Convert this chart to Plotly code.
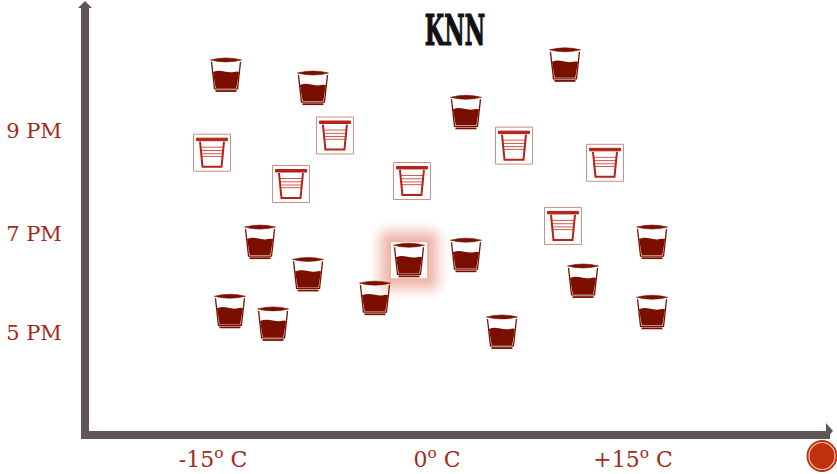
import plotly.graph_objects as go

# Temperature (deg C) and time of day (24h clock)
filled_temp = [-15.07, -8.86, 9.14, 2.07, -12.64, -9.21, -14.79, -11.71, -4.43, -2.0, 2.07, 10.43, 15.36, 15.36, 4.64]
filled_hour = [22.15, 21.89, 22.35, 21.41, 18.84, 18.2, 17.47, 17.22, 17.73, 18.48, 18.58, 18.07, 18.84, 17.45, 17.06]
empty_temp = [-16.07, -7.29, -10.43, -1.79, 5.5, 12.0, 9.0]
empty_hour = [20.61, 20.95, 19.99, 20.05, 20.75, 20.41, 19.16]
target_temp = [-2.0]
target_hour = [18.48]

x_tick_vals = [-16, 0, 14]
x_tick_text = ["-15<sup>o</sup> C", "0<sup>o</sup> C", "+15<sup>o</sup> C"]
y_tick_vals = [21.04, 19.0, 17.04]
y_tick_text = ["9 PM", "7 PM", "5 PM"]

# light flecks in the worn axis bars
fleck_x = [-24.5, -23.8, -23.1, -21.6, -20.4, -19.7, -17.9, -16.5, -15.8, -12.3, -10.6, -8.2, -6.9, -3.4, -1.2,
           1.7, 3.9, 6.2, 8.8, 11.3, 13.9, 16.4, 18.7, 21.1, 23.6, 25.2, 26.3]
fleck_y = [23.1, 22.4, 21.7, 20.9, 20.2, 19.6, 18.5, 17.9, 17.1, 16.4, 15.9, 15.5, 15.3]

DARK = "#7a0f00"
RED = "#b3231a"
LABEL = "#a32a1c"
AXIS = "#5f5658"
BOX = "#cb8f86"
PXX, PXY = 14.0, 50.5

fig = go.Figure()


def path(pts, close=True):
    # points are (right, down) pixel offsets from the anchor
    s = "M" + " L".join(f"{x},{-y}" for x, y in pts)
    return s + (" Z" if close else "")


def anchored(x, y, d, **kw):
    return dict(type="path", xref="x", yref="y", xsizemode="pixel", ysizemode="pixel",
                xanchor=x, yanchor=y, path=d, layer="above", **kw)


def filled_cup(x, y):
    out = []
    out.append(anchored(x, y, "M-15.5,15 Q0,19 15.5,15 Q0,11 -15.5,15 Z",
                        fillcolor=DARK, line=dict(color=DARK, width=0.6)))
    out.append(anchored(x, y, path([(-14.5, -13), (-11.5, 14), (11.5, 14), (14.5, -13)], False),
                        line=dict(color=DARK, width=1.3)))
    out.append(anchored(x, y, "M-13,3 Q-8,5 -3,3.8 Q4,2 8,3 Q11,3.8 13,3 L10.3,-13 L-10.3,-13 Z",
                        fillcolor=DARK, line=dict(width=0)))
    out.append(anchored(x, y, path([(-10.5, 15.2), (10.5, 15.2), (10.5, 17), (-10.5, 17)]),
                        fillcolor=DARK, line=dict(width=0)))
    return out


def empty_cup(x, y):
    out = []
    for dy in (-5.5, -2.2, 1, 3.7):
        out.append(anchored(x, y, path([(-11.2, dy), (11.2, dy)], False),
                            line=dict(color="#cf5a4c", width=1)))
    out.append(anchored(x, y, path([(-12, -11), (-9.5, 14), (9.5, 14), (12, -11)], False),
                        line=dict(color=RED, width=2)))
    out.append(anchored(x, y, path([(-15.5, -14.5), (15.5, -14.5), (15.5, -12), (-15.5, -12)]),
                        fillcolor=RED, line=dict(color=RED, width=1)))
    return out


shapes = []
# glow and white plate behind the query point
for half, op in [(40, .02), (38, .03), (36, .04), (34, .05), (32, .06), (30, .07), (28, .08),
                 (26, .08), (24, .09), (22, .09), (20, .10)]:
    for tx, hy in zip(target_temp, target_hour):
        a = half
        r = half - 16
        d = (f"M{-a+r},{-a} L{a-r},{-a} Q{a},{-a} {a},{-a+r} L{a},{a-r} Q{a},{a} {a-r},{a} "
             f"L{-a+r},{a} Q{-a},{a} {-a},{a-r} L{-a},{-a+r} Q{-a},{-a} {-a+r},{-a} Z")
        shapes.append(anchored(tx, hy, d, fillcolor=f"rgba(226,120,90,{op})", line=dict(width=0)))
for tx, hy in zip(target_temp, target_hour):
    shapes.append(anchored(tx, hy, path([(-18, -18), (18, -18), (18, 18), (-18, 18)]),
                           fillcolor="white", line=dict(width=0)))

for x, y in zip(filled_temp, filled_hour):
    shapes += filled_cup(x, y)
for x, y in zip(empty_temp, empty_hour):
    shapes += empty_cup(x, y)

# axis arrow heads
shapes.append(dict(type="path", xref="paper", yref="paper", xsizemode="pixel", ysizemode="pixel",
                   xanchor=1, yanchor=0, path="M-4,0 L-4,8 L3,0 L-4,-8 Z",
                   fillcolor=AXIS, line=dict(width=0), layer="above"))
shapes.append(dict(type="path", xref="paper", yref="paper", xsizemode="pixel", ysizemode="pixel",
                   xanchor=0, yanchor=1, path="M-11,-2 L-4,5 L3,-2 Z",
                   fillcolor=AXIS, line=dict(width=0), layer="above"))
# corner badge
shapes.append(dict(type="circle", xref="paper", yref="paper", xsizemode="pixel", ysizemode="pixel",
                   xanchor=1, yanchor=0, x0=-23.5, x1=7.5, y0=-41, y1=-9,
                   fillcolor="#c0300c", line=dict(width=0), layer="above"))
shapes.append(dict(type="circle", xref="paper", yref="paper", xsizemode="pixel", ysizemode="pixel",
                   xanchor=1, yanchor=0, x0=-21, x1=5, y0=-38.5, y1=-11.5,
                   fillcolor="rgba(0,0,0,0)", line=dict(color="#f3c7b8", width=1.2), layer="above"))

W, H = 837, 474
L, R, T, B = 89, 7, 6, 43
XMIN, XMAX = (L - 437) / PXX, (W - R - 437) / PXX
YMIN, YMAX = 19 - (H - B - 234) / PXY, 19 + (234 - T) / PXY

fig.add_trace(go.Scatter(x=filled_temp, y=filled_hour, mode="markers", cliponaxis=False,
                         marker=dict(symbol="circle", size=4, color=DARK), showlegend=False))
fig.add_trace(go.Scatter(x=empty_temp, y=empty_hour, mode="markers", cliponaxis=False,
                         marker=dict(symbol="square-open", size=37, color=BOX, line=dict(color=BOX, width=1)),
                         showlegend=False))
fig.add_trace(go.Scatter(x=fleck_x, y=[YMIN - 4 / PXY] * len(fleck_x), mode="markers", cliponaxis=False,
                         marker=dict(symbol="square", size=2, color="rgba(225,220,220,0.8)"), showlegend=False))
fig.add_trace(go.Scatter(x=[XMIN - 4 / PXX] * len(fleck_y), y=fleck_y, mode="markers", cliponaxis=False,
                         marker=dict(symbol="square", size=2, color="rgba(225,220,220,0.8)"), showlegend=False))

fig.update_layout(
    width=W, height=H, paper_bgcolor="white", plot_bgcolor="white", showlegend=False,
    margin=dict(l=L, r=R, t=T, b=B, autoexpand=False), shapes=shapes,
    title=dict(text="<b>KNN</b>", x=455 / W, xanchor="center", y=1 - 30 / H, yanchor="middle",
               font=dict(family="DejaVu Serif", size=43, color="#111111")),
    xaxis=dict(range=[XMIN, XMAX], showgrid=False, zeroline=False, layer="below traces",
               automargin=False,
               showline=True, linecolor=AXIS, linewidth=8,
               tickmode="array", tickvals=x_tick_vals, ticktext=x_tick_text,
               ticks="outside", ticklen=2, tickcolor="rgba(0,0,0,0)",
               tickfont=dict(family="DejaVu Serif", size=22, color=LABEL)),
    yaxis=dict(range=[YMIN, YMAX], showgrid=False, zeroline=False, layer="below traces",
               automargin=False,
               showline=True, linecolor=AXIS, linewidth=8,
               tickmode="array", tickvals=y_tick_vals, ticktext=y_tick_text,
               ticks="outside", ticklen=15, tickcolor="rgba(0,0,0,0)",
               tickfont=dict(family="DejaVu Serif", size=21, color=LABEL)),
)
post = """
document.documentElement.style.margin='0';document.body.style.margin='0';document.body.style.overflow='hidden';
var t=document.querySelector('.gtitle');
if(t){var b=t.getBBox();var cx=b.x+b.width/2,cy=b.y+b.height/2;
t.style.stroke='#111111';t.style.strokeWidth='1.2px';
t.setAttribute('transform','translate('+cx+','+cy+') scale(0.52,1) translate('+(-cx)+','+(-cy)+')');}
"""
fig.write_html("out.html", post_script=post, config=dict(displayModeBar=False))
